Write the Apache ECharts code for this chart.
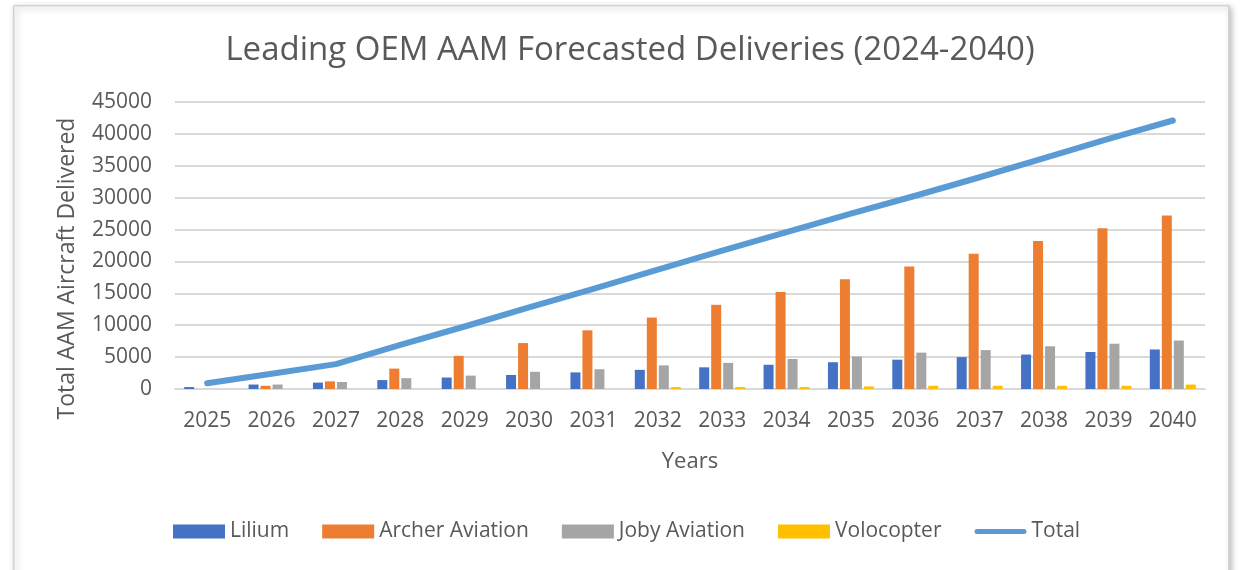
<!DOCTYPE html>
<html>
<head>
<meta charset="utf-8">
<script src="https://cdn.jsdelivr.net/npm/echarts@6/dist/echarts.min.js"></script>
<style>
html,body{margin:0;padding:0;background:#fff;}
#chart{width:1240px;height:570px;}
</style>
</head>
<body>
<div id="chart"></div>
<script>
const years = ['2025','2026','2027','2028','2029','2030','2031','2032','2033','2034','2035','2036','2037','2038','2039','2040'];
const lilium = [300, 700, 1000, 1400, 1800, 2200, 2600, 3000, 3400, 3800, 4200, 4600, 5000, 5400, 5800, 6200];
const archer = [0, 500, 1200, 3200, 5200, 7200, 9200, 11200, 13200, 15200, 17200, 19200, 21200, 23200, 25200, 27200];
const joby = [0, 700, 1100, 1700, 2100, 2700, 3100, 3700, 4100, 4700, 5100, 5700, 6100, 6700, 7100, 7600];
const volocopter = [0, 0, 0, 0, 0, 0, 0, 300, 300, 300, 400, 500, 500, 500, 500, 700];
const total = [900, 2400, 3900, 6900, 9800, 12800, 15700, 18700, 21700, 24600, 27500, 30300, 33200, 36200, 39200, 42100];

const FONT = 'Open Sans';
const TXT = '#595959';
const chart = echarts.init(document.getElementById('chart'), null, {renderer:'canvas'});
const barBase = {type:'bar', barWidth:10, barGap:'20%'};
const lineIcon = 'path://M2.5,0 L49.5,0 A2.5,2.5 0 0 1 49.5,5 L2.5,5 A2.5,2.5 0 0 1 2.5,0 Z';
chart.setOption({
  backgroundColor:'#ffffff',
  animation:false,
  textStyle:{fontFamily:FONT},
  graphic:[{
    type:'rect', left:13, top:5, z:-10,
    shape:{width:1215, height:570},
    style:{fill:'#fff', stroke:'#d4d4d4', lineWidth:1.5, shadowBlur:6, shadowColor:'rgba(0,0,0,0.25)', shadowOffsetX:2, shadowOffsetY:2}
  }],
  title:{
    text:'Leading OEM AAM Forecasted Deliveries (2024-2040)',
    left:625, top:29, textAlign:'center',
    textStyle:{fontFamily:FONT, fontSize:33, fontWeight:'normal', color:TXT}
  },
  legend:{
    left:168, top:516,
    itemWidth:52, itemHeight:14, itemGap:33,
    symbolKeepAspect:true,
    textStyle:{fontFamily:FONT, fontSize:21, color:TXT},
    data:[
      {name:'Lilium', icon:'rect'},
      {name:'Archer Aviation', icon:'rect'},
      {name:'Joby Aviation', icon:'rect'},
      {name:'Volocopter', icon:'rect'},
      {name:'Total', icon:lineIcon}
    ]
  },
  grid:{left:175, right:35, top:102, bottom:181, outerBoundsMode:'none'},
  xAxis:{
    type:'category', data:years,
    name:'Years', nameLocation:'middle', nameGap:62,
    nameTextStyle:{fontFamily:FONT, fontSize:22, color:TXT},
    axisLine:{lineStyle:{color:'#d9d9d9', width:2}},
    axisTick:{show:false},
    axisLabel:{fontFamily:FONT, fontSize:21, color:TXT, margin:22}
  },
  yAxis:{
    type:'value', min:0, max:45000, interval:5000,
    name:'Total AAM Aircraft Delivered', nameLocation:'middle', nameGap:96, nameRotate:90,
    nameTextStyle:{fontFamily:FONT, fontSize:23, color:TXT, padding:[0,46,0,0]},
    axisLine:{show:false}, axisTick:{show:false},
    axisLabel:{fontFamily:FONT, fontSize:21, color:TXT, margin:23, formatter:function(v){return String(v);}},
    splitLine:{lineStyle:{color:'#d9d9d9', width:2}}
  },
  series:[
    Object.assign({name:'Lilium', data:lilium, itemStyle:{color:'#4472C4'}}, barBase),
    Object.assign({name:'Archer Aviation', data:archer, itemStyle:{color:'#ED7D31'}}, barBase),
    Object.assign({name:'Joby Aviation', data:joby, itemStyle:{color:'#A5A5A5'}}, barBase),
    Object.assign({name:'Volocopter', data:volocopter, itemStyle:{color:'#FFC000'}}, barBase),
    {name:'Total', type:'line', data:total, symbol:'none', z:5,
     itemStyle:{color:'#5B9BD5'},
     lineStyle:{color:'#5B9BD5', width:6, cap:'round', join:'round'}}
  ]
});
</script>
</body>
</html>
